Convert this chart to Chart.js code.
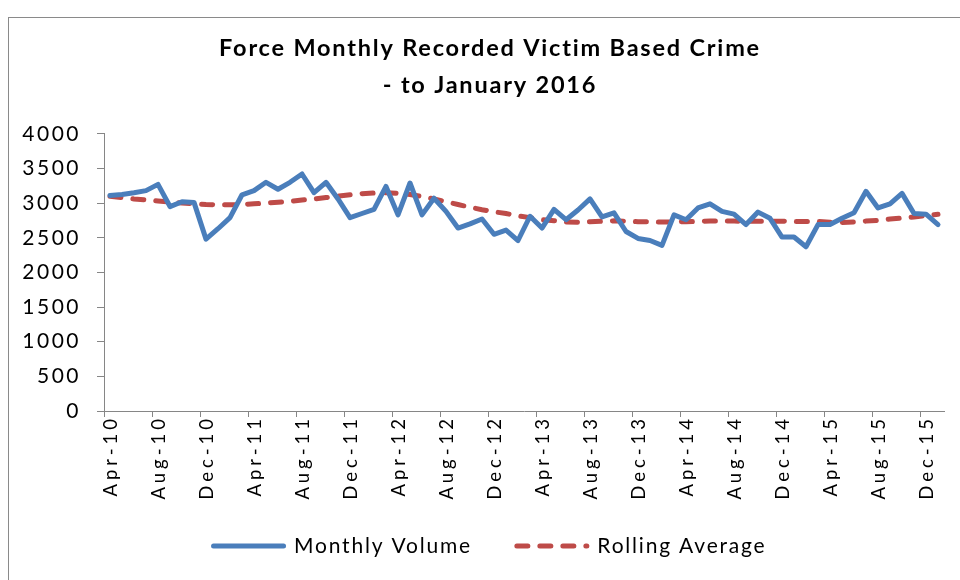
<!DOCTYPE html>
<html>
<head>
<meta charset="utf-8">
<script src="https://cdn.jsdelivr.net/npm/chart.js@4.4.1/dist/chart.umd.min.js"></script>
<style>
  html, body { margin: 0; padding: 0; background: #ffffff; overflow: hidden; width: 960px; height: 580px; }
  #frame { position: absolute; left: 8px; top: 17px; width: 1000px; height: 700px; border: 1px solid #8a8a8a; box-sizing: border-box; }
  #c { position: absolute; left: 0; top: 0; }
</style>
</head>
<body>
<div id="frame"></div>
<canvas id="c" width="980" height="580"></canvas>
<script>
const months = [
  'Apr-10','May-10','Jun-10','Jul-10','Aug-10','Sep-10','Oct-10','Nov-10','Dec-10','Jan-11','Feb-11','Mar-11',
  'Apr-11','May-11','Jun-11','Jul-11','Aug-11','Sep-11','Oct-11','Nov-11','Dec-11','Jan-12','Feb-12','Mar-12',
  'Apr-12','May-12','Jun-12','Jul-12','Aug-12','Sep-12','Oct-12','Nov-12','Dec-12','Jan-13','Feb-13','Mar-13',
  'Apr-13','May-13','Jun-13','Jul-13','Aug-13','Sep-13','Oct-13','Nov-13','Dec-13','Jan-14','Feb-14','Mar-14',
  'Apr-14','May-14','Jun-14','Jul-14','Aug-14','Sep-14','Oct-14','Nov-14','Dec-14','Jan-15','Feb-15','Mar-15',
  'Apr-15','May-15','Jun-15','Jul-15','Aug-15','Sep-15','Oct-15','Nov-15','Dec-15','Jan-16'
];

const monthlyVolume = [
  3110, 3125, 3150, 3180, 3270, 2950, 3020, 3010, 2480, 2630, 2790, 3120,
  3180, 3300, 3200, 3300, 3420, 3150, 3300, 3060, 2790, 2850, 2910, 3240,
  2830, 3290, 2830, 3070, 2880, 2640, 2700, 2770, 2550, 2610, 2460, 2810,
  2640, 2910, 2760, 2900, 3060, 2800, 2860, 2590, 2490, 2460, 2390, 2830,
  2760, 2930, 2990, 2880, 2840, 2690, 2870, 2780, 2510, 2510, 2370, 2690,
  2690, 2780, 2860, 3170, 2930, 2990, 3140, 2850, 2840, 2690
];

const rollingAverage = [
  3100, 3080, 3060, 3045, 3030, 3015, 3003, 2990, 2980, 2975, 2975, 2980,
  2990, 3000, 3012, 3025, 3045, 3060, 3080, 3100, 3120, 3135, 3145, 3150,
  3140, 3125, 3095, 3060, 3020, 2980, 2940, 2905, 2875, 2850, 2815, 2790,
  2760, 2745, 2728, 2722, 2730, 2738, 2744, 2738, 2732, 2728, 2726, 2728,
  2732, 2736, 2740, 2740, 2740, 2738, 2738, 2738, 2738, 2736, 2735, 2735,
  2725, 2720, 2728, 2740, 2750, 2770, 2786, 2800, 2820, 2840
];

const yTicks = [0, 500, 1000, 1500, 2000, 2500, 3000, 3500, 4000];
const titleLines = ['Force Monthly Recorded Victim Based Crime', '- to January 2016'];

const AXIS_GREY = '#868686';
const FONT = 'Lato';
const LABEL_EVERY = 4;

class SpacedLinearScale extends Chart.LinearScale {
  drawLabels(area) {
    const c = this.ctx; c.save(); c.letterSpacing = (this.options.spacing || 0) + 'px';
    super.drawLabels(area); c.restore();
  }
}
SpacedLinearScale.id = 'spacedLinear';
SpacedLinearScale.defaults = Chart.LinearScale.defaults;
Chart.register(SpacedLinearScale);

const TEXT_SPACING = '1.8px';
const spacingPlugin = {
  id: 'spacingPlugin',
  beforeUpdate(chart) { chart.ctx.letterSpacing = TEXT_SPACING; },
  beforeDraw(chart) { chart.ctx.letterSpacing = TEXT_SPACING; }
};

// rotated category labels of the x scale, positioned by the scale itself
const xLabelPlugin = {
  id: 'xLabelPlugin',
  afterDraw(chart) {
    const s = chart.scales.x;
    const ctx = chart.ctx;
    const spacing = 4;
    ctx.save();
    ctx.font = '18.5px ' + FONT;
    ctx.fillStyle = '#000';
    ctx.textAlign = 'left';
    ctx.textBaseline = 'middle';
    s.ticks.forEach((t, i) => {
      if (i % LABEL_EVERY !== 0) return;
      const label = months[i];
      ctx.letterSpacing = '0px';
      const w = ctx.measureText(label).width + spacing * (label.length - 1);
      const x = s.getPixelForValue(i) + 1;
      const yTop = s.top + 8;
      ctx.save();
      ctx.translate(x, yTop + w);
      ctx.rotate(-Math.PI / 2);
      ctx.letterSpacing = spacing + 'px';
      ctx.fillText(label, 0, 0);
      ctx.restore();
    });
    ctx.restore();
  }
};

new Chart(document.getElementById('c'), {
  type: 'line',
  data: {
    labels: months,
    datasets: [
      {
        label: 'Monthly Volume',
        data: monthlyVolume,
        borderColor: '#4A7EBB',
        backgroundColor: '#4A7EBB',
        borderWidth: 5,
        pointRadius: 0,
        tension: 0,
        borderJoinStyle: 'round',
        borderCapStyle: 'round'
      },
      {
        label: 'Rolling Average',
        data: rollingAverage,
        borderColor: '#BE4B48',
        backgroundColor: '#BE4B48',
        borderWidth: 5,
        borderDash: [11, 12],
        borderCapStyle: 'round',
        pointRadius: 0,
        tension: 0
      }
    ]
  },
  options: {
    responsive: false,
    animation: false,
    events: [],
    layout: { padding: { left: 0, right: 0, top: 0, bottom: 13.5 } },
    plugins: {
      tooltip: { enabled: false },
      title: {
        display: true,
        text: titleLines,
        color: '#000',
        font: { family: FONT, size: 23.5, weight: 'bold', lineHeight: 1.57 },
        padding: { top: 30, bottom: 30 }
      },
      legend: {
        position: 'bottom',
        labels: {
          usePointStyle: true,
          pointStyle: 'line',
          pointStyleWidth: 70,
          color: '#000',
          font: { family: FONT, size: 21 },
          padding: 45,
          generateLabels: (chart) => {
            const items = Chart.defaults.plugins.legend.labels.generateLabels(chart);
            items.forEach((it) => {
              const ds = chart.data.datasets[it.datasetIndex];
              it.lineDash = ds.borderDash || [];
              it.lineCap = ds.borderCapStyle || 'butt';
              it.lineWidth = ds.borderWidth;
              it.strokeStyle = ds.borderColor;
              it.pointStyle = 'line';
            });
            return items;
          }
        }
      }
    },
    scales: {
      x: {
        type: 'category',
        offset: true,
        grid: {
          offset: true,
          drawOnChartArea: false,
          tickLength: 6,
          color: AXIS_GREY,
          tickColor: (c) => (c.index % LABEL_EVERY === 0 ? AXIS_GREY : 'rgba(0,0,0,0)')
        },
        border: { color: AXIS_GREY, width: 1 },
        ticks: {
          autoSkip: false,
          display: false
        },
        afterFit: (s) => { s.height = 79.5; }
      },
      y: {
        type: 'spacedLinear',
        spacing: 2.5,
        min: 0,
        max: 4000,
        afterBuildTicks: (s) => { s.ticks = yTicks.map(v => ({ value: v })); },
        grid: { drawOnChartArea: false, tickLength: 7, color: AXIS_GREY },
        border: { color: AXIS_GREY, width: 1 },
        ticks: {
          padding: 16,
          color: '#000',
          font: { family: FONT, size: 21 },
          callback: (v) => String(v)
        },
        afterFit: (s) => { s.width = 104; }
      },
      y2: {
        type: 'linear',
        position: 'right',
        display: true,
        grid: { display: false },
        border: { display: false },
        ticks: { display: false },
        afterFit: (s) => { s.width = 36; }
      }
    }
  },
  plugins: [spacingPlugin, xLabelPlugin]
});
</script>
</body>
</html>
